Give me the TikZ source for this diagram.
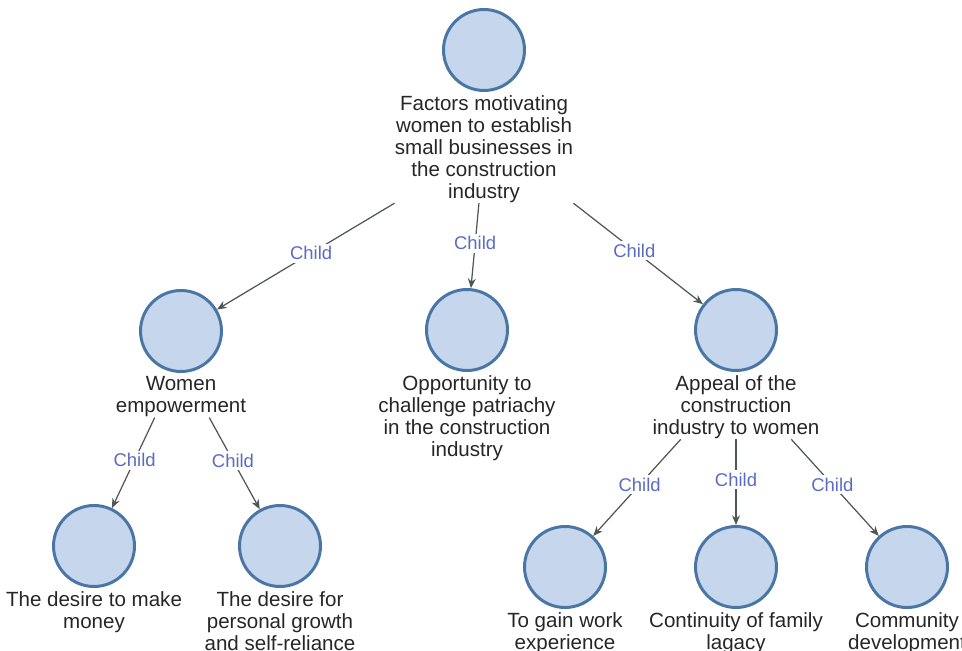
\documentclass[tikz,border=0pt]{standalone}
\usepackage{fontspec}
\setmainfont{Liberation Sans}
\usetikzlibrary{arrows.meta,positioning}
\definecolor{circfill}{HTML}{C6D6EC}
\definecolor{circdraw}{HTML}{4A76A6}
\definecolor{edgegray}{HTML}{4F5653}
\definecolor{labelblue}{HTML}{5A6CC2}
\definecolor{textgray}{HTML}{262626}

\begin{document}
\begin{tikzpicture}[x=0.02cm,y=-0.02cm]
\tikzset{
  codenode/.style={circle,draw=circdraw,fill=circfill,line width=1.7pt,minimum size=1.62cm,inner sep=0pt},
  codetext/.style={align=center,inner sep=0pt,text=textgray,font=\fontsize{11.7}{12.5}\selectfont},
  childedge/.style={draw=edgegray,line width=0.7pt,-{Stealth[length=5.5pt,width=4.5pt]}},
  childlabel/.style={pos=0.47,fill=white,inner sep=1.5pt,text=labelblue,font=\fontsize{10.5}{12}\selectfont}
}
\useasboundingbox (0,0) rectangle (962,651);
% circles
\node[codenode] (n_root) at (484,50) {};
\node[codenode] (n_wom) at (181,331) {};
\node[codenode] (n_opp) at (467,330) {};
\node[codenode] (n_app) at (736,330) {};
\node[codenode] (n_money) at (94,546) {};
\node[codenode] (n_grow) at (280,546) {};
\node[codenode] (n_work) at (565,567) {};
\node[codenode] (n_fam) at (736,567) {};
\node[codenode] (n_comm) at (907,567) {};
% labels under the circles
\node[codetext,below=2pt of n_root] (t_root) {Factors motivating\\women to establish\\small businesses in\\the construction\\industry};
\node[codetext,below=2pt of n_wom] (t_wom) {Women\\empowerment};
\node[codetext,below=2pt of n_opp] (t_opp) {Opportunity to\\challenge patriachy\\in the construction\\industry};
\node[codetext,below=2pt of n_app] (t_app) {Appeal of the\\construction\\industry to women};
\node[codetext,below=2pt of n_money] (t_money) {The desire to make\\money};
\node[codetext,below=2pt of n_grow] (t_grow) {The desire for\\personal growth\\and self-reliance};
\node[codetext,below=2pt of n_work] (t_work) {To gain work\\experience};
\node[codetext,below=2pt of n_fam] (t_fam) {Continuity of family\\lagacy};
\node[codetext,below=2pt of n_comm] (t_comm) {Community\\development};
% edges
\draw[childedge] (t_root.south west) -- node[childlabel]{Child} (n_wom);
\draw[childedge] (t_root) -- node[childlabel]{Child} (n_opp);
\draw[childedge] (t_root.south east) -- node[childlabel]{Child} (n_app);
\draw[childedge] (t_wom.-142) -- node[childlabel]{Child} (n_money);
\draw[childedge] (t_wom.-36) -- node[childlabel]{Child} (n_grow);
\draw[childedge] (t_app.-150) -- node[childlabel]{Child} (n_work);
\draw[childedge] (t_app) -- node[childlabel]{Child} (n_fam);
\draw[childedge] (t_app.-30) -- node[childlabel]{Child} (n_comm);
\end{tikzpicture}
\end{document}
